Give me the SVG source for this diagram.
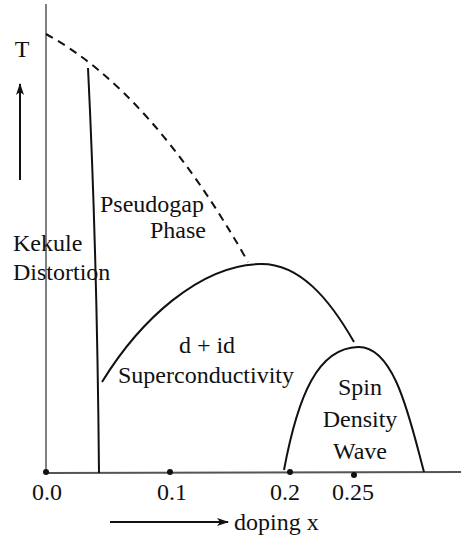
<svg xmlns="http://www.w3.org/2000/svg" width="461" height="542" viewBox="0 0 461 542">
<style>
text{font-family:"Liberation Serif","Times New Roman",serif;font-size:24px;fill:#111}
.c{fill:none;stroke:#111;stroke-width:2}
.ax{fill:none;stroke:#808080;stroke-width:2}
.dot{fill:#111}
</style>
<defs>
<marker id="ah" markerWidth="12" markerHeight="8" refX="11" refY="4" orient="auto" markerUnits="userSpaceOnUse">
<path d="M0,0 L12,4 L0,8 L3,4 Z" fill="#111"/>
</marker>
</defs>
<g id="axes">
<line class="ax" x1="46" y1="4" x2="46" y2="473"/>
<line x1="46" y1="473" x2="461" y2="472" stroke="#555" stroke-width="2"/>
<circle class="dot" cx="46" cy="472" r="3"/>
<circle class="dot" cx="170" cy="472" r="3"/>
<circle class="dot" cx="290" cy="472" r="3"/>
<circle class="dot" cx="354" cy="475" r="3"/>
<text x="47" y="500" text-anchor="middle">0.0</text>
<text x="172" y="500" text-anchor="middle">0.1</text>
<text x="285" y="500" text-anchor="middle">0.2</text>
<text x="353" y="500" text-anchor="middle">0.25</text>
<text x="22" y="57" text-anchor="middle">T</text>
<text x="234" y="530">doping x</text>
</g>
<g id="connectors">
<line x1="20" y1="180" x2="20" y2="84" stroke="#111" stroke-width="2" marker-end="url(#ah)"/>
<line x1="110" y1="522" x2="228" y2="522" stroke="#111" stroke-width="2" marker-end="url(#ah)"/>
<path class="c" d="M46,34 Q152,92 248,262" stroke-dasharray="8,6"/>
<path class="c" d="M88,68 Q97,250 99,473"/>
<path class="c" d="M102,382 C140,320 200,265 260,264 C300,263 330,300 354,342"/>
<path class="c" d="M284,470 C298,395 318,348 358,347 C395,346 410,420 424,472"/>
</g>
<g id="kekule">
<text x="13" y="251">Kekule</text>
<text x="13" y="280">Distortion</text>
</g>
<g id="pseudogap">
<text x="100" y="212">Pseudogap</text>
<text x="150" y="238">Phase</text>
</g>
<g id="sc">
<text x="207" y="353" text-anchor="middle">d + id</text>
<text x="206" y="383" text-anchor="middle">Superconductivity</text>
</g>
<g id="sdw">
<text x="360" y="395" text-anchor="middle">Spin</text>
<text x="360" y="427" text-anchor="middle">Density</text>
<text x="360" y="459" text-anchor="middle">Wave</text>
</g>
</svg>
